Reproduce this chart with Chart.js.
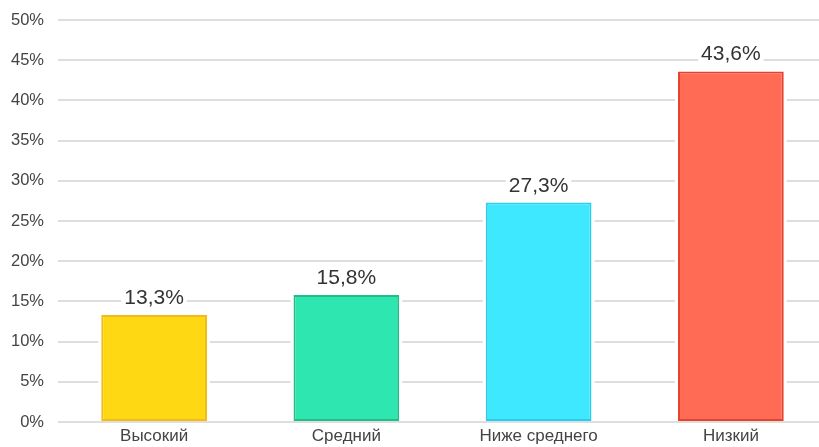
<!DOCTYPE html>
<html>
<head>
<meta charset="utf-8">
<script src="https://cdn.jsdelivr.net/npm/chart.js@4/dist/chart.umd.min.js"></script>
<style>
  html, body { margin: 0; padding: 0; background: #fff; overflow: hidden; }
  #wrap { width: 827px; height: 447px; }
</style>
</head>
<body>
<div id="wrap"><canvas id="chart"></canvas></div>
<script>
const categories = ['Высокий', 'Средний', 'Ниже среднего', 'Низкий'];
const values = [13.3, 15.8, 27.3, 43.6];
const fillColors = ['#FFD814', '#2DE6B0', '#3EE9FF', '#FF6B55'];
const borderColors = ['#F2BB1C', '#22BE85', '#2CCDEB', '#E5412F'];

const fmt = (v) => v.toString().replace('.', ',') + '%';
const FONT = '"Liberation Sans", Arial, sans-serif';

// white halo around bars and value labels, so gridlines stop short of them
const haloPlugin = {
    id: 'halo',
    beforeDatasetsDraw(chart) {
        const ctx = chart.ctx;
        ctx.save();
        ctx.fillStyle = '#fff';
        chart.getDatasetMeta(0).data.forEach((bar) => {
            const w = bar.width;
            ctx.fillRect(bar.x - w / 2 - 3, bar.y - 2, w + 6, bar.base - bar.y + 1);
        });
        ctx.restore();
    },
    afterDatasetsDraw(chart) {
        const ctx = chart.ctx;
        ctx.save();
        ctx.font = '21px ' + FONT;
        ctx.textAlign = 'center';
        ctx.textBaseline = 'alphabetic';
        chart.getDatasetMeta(0).data.forEach((bar, i) => {
            const txt = fmt(values[i]);
            const tw = ctx.measureText(txt).width;
            ctx.fillStyle = '#fff';
            ctx.fillRect(bar.x - tw / 2 - 3, bar.y - 30, tw + 6, 22);
            ctx.fillStyle = '#333';
            ctx.fillText(txt, bar.x, bar.y - 11);
        });
        ctx.restore();
    }
};

new Chart(document.getElementById('chart'), {
    type: 'bar',
    data: {
        labels: categories,
        datasets: [{
            data: values,
            backgroundColor: fillColors,
            borderColor: borderColors,
            borderWidth: 2,
            borderSkipped: false,
            barPercentage: 0.55,
            categoryPercentage: 1
        }]
    },
    options: {
        responsive: true,
        maintainAspectRatio: false,
        animation: false,
        layout: { padding: { top: 20, right: 0, bottom: 0, left: 0 } },
        plugins: {
            legend: { display: false },
            tooltip: { enabled: false }
        },
        scales: {
            y: {
                min: 0,
                max: 50,
                afterFit: (scale) => {
                    scale.width = 58;
                    scale.paddingTop = 0;
                    scale.paddingBottom = 0;
                },
                grid: { color: '#dedede', lineWidth: 2, drawTicks: false },
                border: { display: false },
                ticks: {
                    stepSize: 5,
                    padding: 14,
                    color: '#444',
                    font: { size: 16.5, family: FONT },
                    callback: (v) => v + '%'
                }
            },
            x: {
                afterFit: (scale) => { scale.height = 25; },
                grid: { display: false, drawTicks: false },
                border: { display: false },
                ticks: {
                    padding: 4,
                    color: '#444',
                    font: { size: 17, family: FONT }
                }
            }
        }
    },
    plugins: [haloPlugin]
});
</script>
</body>
</html>
